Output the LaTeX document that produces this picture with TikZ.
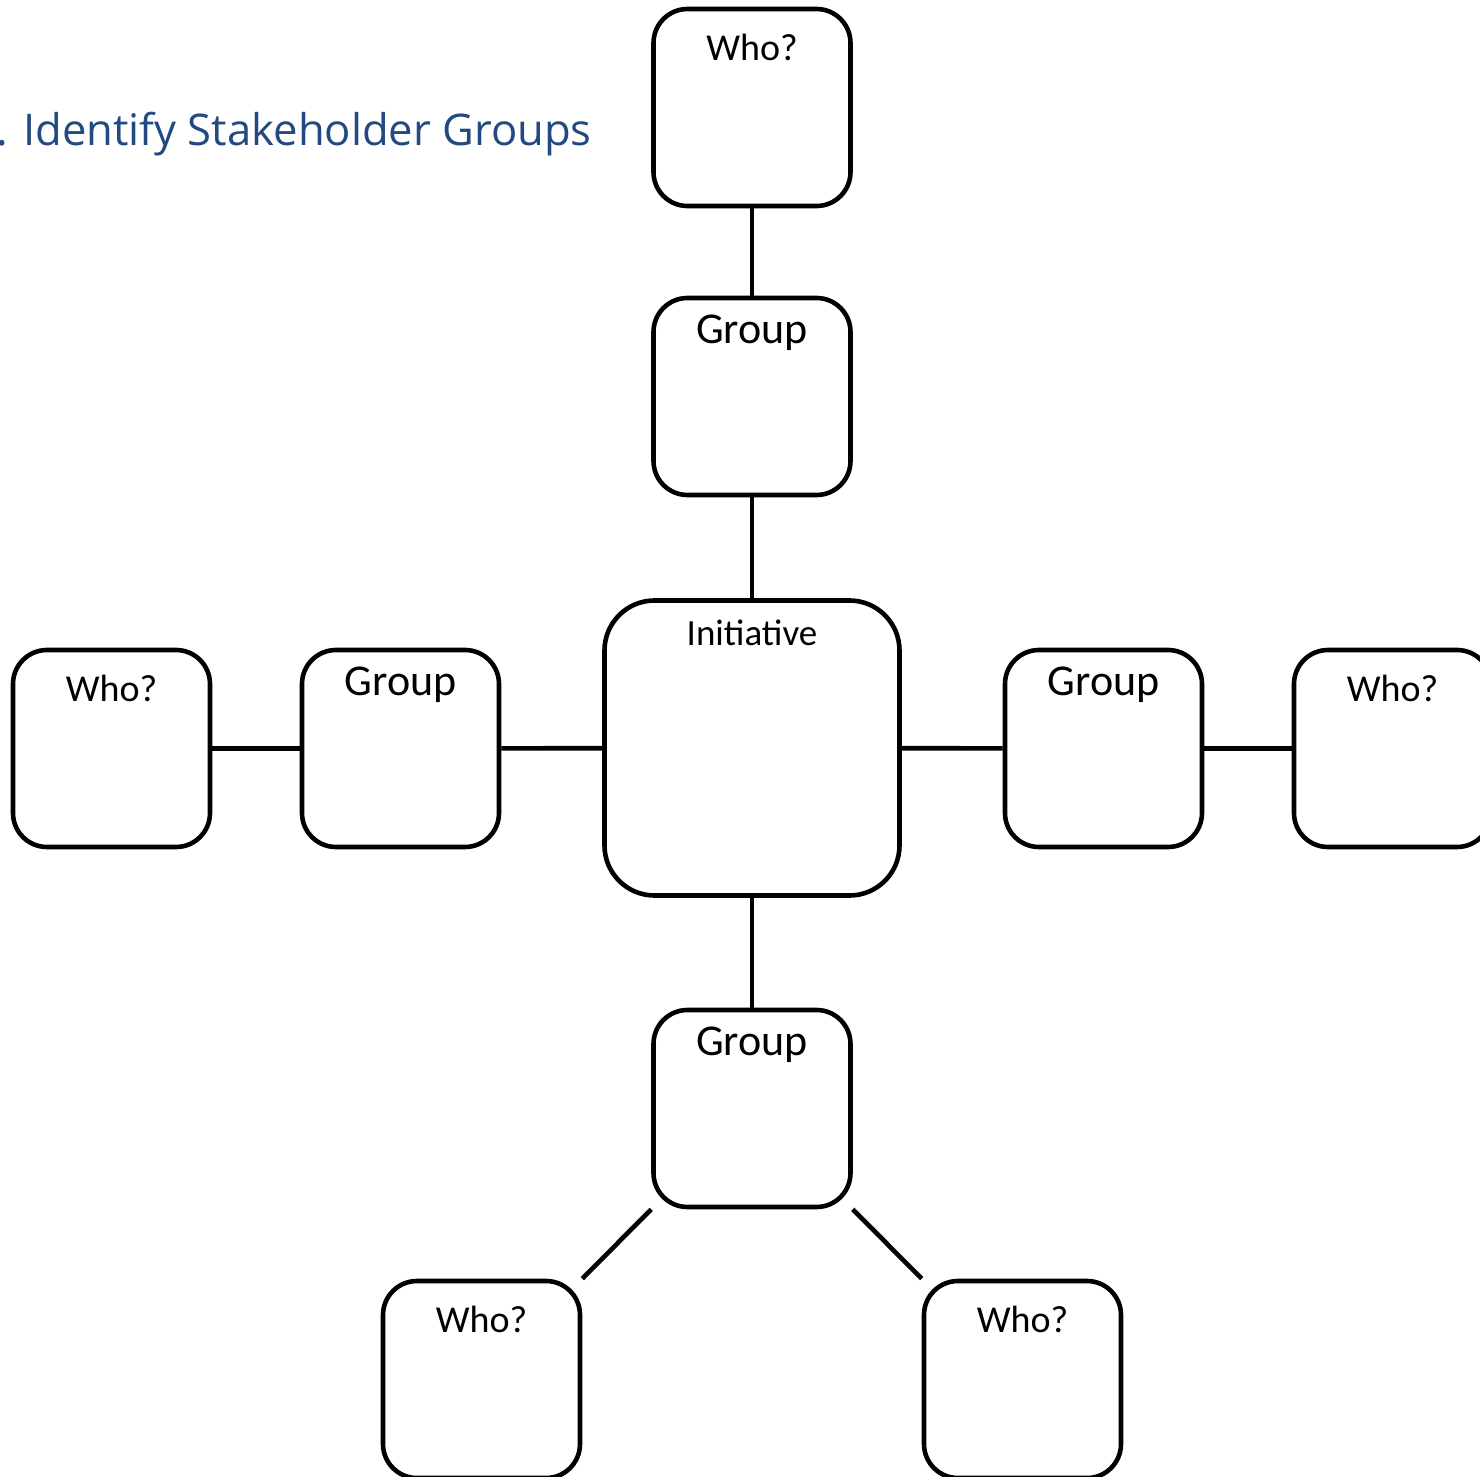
\documentclass[tikz,border=0pt]{standalone}
\usepackage{fontspec}
\setmainfont{Carlito}
\newfontfamily\titlefont{Open Sans}
\usepackage{tikz}
\usetikzlibrary{positioning}
\definecolor{titleblue}{RGB}{34,74,128}

\begin{document}
\begin{tikzpicture}[x=0.5pt,y=-0.5pt,-,draw=black,line width=2.3pt]
    \tikzstyle{box}=[rectangle,draw,rounded corners=17pt,minimum width=98.5pt,minimum height=98.5pt,inner sep=0pt]
    \tikzstyle{who}=[box,label={[anchor=base,yshift=-27pt,font=\fontsize{19}{22}\selectfont]north:Who?}]
    \tikzstyle{group}=[box,label={[anchor=base,yshift=-24pt,font=\fontsize{22}{26}\selectfont]north:Group}]
    \tikzstyle{centre}=[box,rounded corners=25pt,minimum width=147.5pt,minimum height=147.5pt,
        label={[anchor=base,yshift=-23.5pt,font=\fontsize{18.5}{22}\selectfont]north:Initiative}]

    \useasboundingbox (0,0) rectangle (1480,1477);

    % Title
    \node[anchor=base east,inner sep=0pt,text=titleblue,font=\titlefont\fontsize{21.8}{26}\selectfont] (title) at (594,146) {1. Identify Stakeholder Groups};

    % The initiative in the middle
    \node[centre] (init) at (752,748) {};

    % Groups round it
    \node[group] (G-top) at (752,396.5) {};
    \node[group] (G-left) at (400.5,748.5) {};
    \node[group] (G-right) at (1103.5,748.5) {};
    \node[group] (G-bottom) at (752,1108.5) {};

    % Who? boxes
    \node[who] (W-top) at (752,107.5) {};
    \node[who] (W-left) at (111.5,748.5) {};
    \node[who] (W-right) at (1392.5,748.5) {};
    \node[who] (W-bl) at (481.5,1379.5) {};
    \node[who] (W-br) at (1022.5,1379.5) {};

    % Connect the initiative with every group
    \draw (init) -- (G-top);
    \draw (init) -- (G-left);
    \draw (init) -- (G-right);
    \draw (init) -- (G-bottom);

    % Connect every group with its Who? boxes
    \draw (G-top) -- (W-top);
    \draw (G-left) -- (W-left);
    \draw (G-right) -- (W-right);
    \draw (G-bottom.south west) -- (W-bl.north east);
    \draw (G-bottom.south east) -- (W-br.north west);
\end{tikzpicture}
\end{document}
